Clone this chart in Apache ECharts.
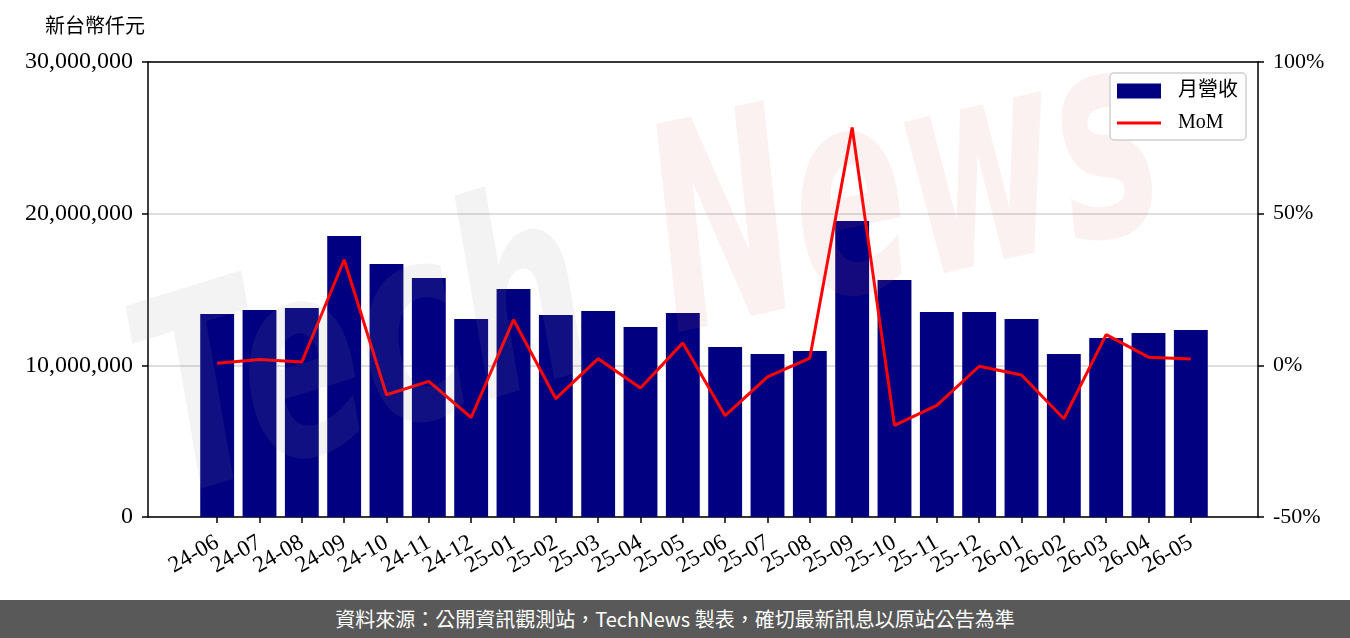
<!DOCTYPE html>
<html>
<head>
<meta charset="utf-8">
<script src="https://cdn.jsdelivr.net/npm/echarts@6/dist/echarts.min.js"></script>
<style>
  html, body { margin: 0; padding: 0; background: #fff; }
  #chart { width: 1350px; height: 600px; }
  #footer {
    width: 1350px; height: 38px; background: #595959; color: #fff;
    font-family: 'Noto Sans CJK TC', sans-serif; font-size: 20px;
    text-align: center; line-height: 38px;
  }
</style>
</head>
<body>
<div id="chart"></div>
<div id="footer">資料來源：公開資訊觀測站，TechNews 製表，確切最新訊息以原站公告為準</div>
<script>
var months = ['24-06','24-07','24-08','24-09','24-10','24-11','24-12',
              '25-01','25-02','25-03','25-04','25-05','25-06','25-07','25-08','25-09','25-10','25-11','25-12',
              '26-01','26-02','26-03','26-04','26-05'];

// 月營收 (新台幣仟元)
var revenue = [13380000, 13650000, 13780000, 18530000, 16680000, 15760000, 13050000,
               15030000, 13320000, 13580000, 12530000, 13450000, 11210000, 10750000, 10950000,
               19520000, 15630000, 13520000, 13520000, 13050000, 10750000, 11800000, 12130000, 12330000];

// MoM (%)
var mom = [0.7, 1.9, 1.1, 34.8, -9.7, -5.3, -17.2,
           15.0, -11.0, 2.2, -7.5, 7.4, -16.6, -3.8, 2.4,
           78.4, -19.8, -13.2, -0.3, -3.2, -17.6, 10.1, 2.7, 2.1];

var serif = "'Liberation Serif', 'Noto Sans CJK TC', serif";
var frameLine = { show: true, onZero: false, lineStyle: { color: '#000', width: 1.5 } };
var blackTick = { show: true, length: 6, lineStyle: { color: '#000', width: 1.5 } };

var chart = echarts.init(document.getElementById('chart'));

chart.setOption({
    animation: false,
    grid: [
        // outer frame
        { left: 148, right: 92, top: 62, bottom: 83 },
        // data area (bars sit inside with side margins)
        { left: 196, right: 138, top: 62, bottom: 83 }
    ],
    legend: {
        orient: 'vertical',
        left: 1110,
        top: 73,
        z: 200,
        padding: [8, 8, 7, 7],
        itemGap: 12,
        itemWidth: 44,
        itemHeight: 15,
        backgroundColor: '#fff',
        borderColor: '#d0d0d0',
        borderWidth: 1.5,
        borderRadius: 4,
        textStyle: {
            fontFamily: serif,
            fontSize: 20,
            color: '#000',
            padding: [0, 0, 0, 12]
        },
        data: [
            { name: '月營收', icon: 'rect' },
            { name: 'MoM', icon: 'path://M0,0 L44,0 L44,3.2 L0,3.2 Z' }
        ]
    },
    xAxis: [
        {
            gridIndex: 0, type: 'value', min: 0, max: 1,
            axisLine: frameLine, axisTick: { show: false }, axisLabel: { show: false }, splitLine: { show: false }
        },
        {
            gridIndex: 0, type: 'value', position: 'top', min: 0, max: 1,
            axisLine: frameLine, axisTick: { show: false }, axisLabel: { show: false }, splitLine: { show: false }
        },
        {
            gridIndex: 1,
            type: 'category',
            data: months,
            axisLine: { show: false },
            axisTick: { show: true, alignWithLabel: true, interval: 0, length: 6, lineStyle: { color: '#000', width: 1.5 } },
            axisLabel: {
                interval: 0,
                rotate: 30,
                fontFamily: serif,
                fontSize: 23,
                color: '#000',
                margin: 24
            },
            splitLine: { show: false }
        }
    ],
    yAxis: [
        {
            gridIndex: 0,
            type: 'value',
            name: '新台幣仟元',
            nameLocation: 'end',
            nameGap: 24,
            nameTextStyle: { fontFamily: serif, fontSize: 20, color: '#000', align: 'right', padding: [0, 3, 0, 0] },
            min: 0,
            max: 30000000,
            interval: 10000000,
            axisLine: frameLine,
            axisTick: blackTick,
            axisLabel: {
                fontFamily: serif,
                fontSize: 24,
                color: '#000',
                margin: 15,
                formatter: function (v) { return v.toLocaleString('en-US'); }
            },
            splitLine: { show: true, lineStyle: { color: '#d3d3d3', width: 1.5 } }
        },
        {
            gridIndex: 0,
            type: 'value',
            min: -50,
            max: 100,
            interval: 50,
            position: 'right',
            axisLine: frameLine,
            axisTick: blackTick,
            axisLabel: {
                fontFamily: serif,
                fontSize: 22,
                color: '#000',
                margin: 15,
                formatter: function (v) { return v + '%'; }
            },
            splitLine: { show: false }
        },
        { gridIndex: 1, type: 'value', min: 0, max: 30000000, show: false },
        { gridIndex: 1, type: 'value', min: -50, max: 100, show: false }
    ],
    graphic: [
        {
            type: 'text',
            x: 190,
            y: 560,
            rotation: 0.3,
            scaleY: 1.5,
            z: 100,
            silent: true,
            style: {
                text: 'Tech',
                font: 'italic bold 180px "DejaVu Sans"',
                textVerticalAlign: 'bottom',
                fill: 'rgba(150,150,150,0.11)'
            }
        },
        {
            type: 'text',
            x: 690,
            y: 400,
            rotation: 0.22,
            scaleY: 1.7,
            z: 100,
            silent: true,
            style: {
                text: 'News',
                font: 'italic bold 168px "DejaVu Sans"',
                textVerticalAlign: 'bottom',
                fill: 'rgba(220,100,100,0.09)'
            }
        }
    ],
    series: [
        {
            name: '月營收',
            type: 'bar',
            xAxisIndex: 2,
            yAxisIndex: 2,
            barWidth: '80%',
            itemStyle: { color: '#000080' },
            data: revenue
        },
        {
            name: 'MoM',
            type: 'line',
            xAxisIndex: 2,
            yAxisIndex: 3,
            showSymbol: false,
            symbol: 'none',
            itemStyle: { color: '#ff0000' },
            lineStyle: { color: '#ff0000', width: 3 },
            data: mom
        }
    ]
});
</script>
</body>
</html>
